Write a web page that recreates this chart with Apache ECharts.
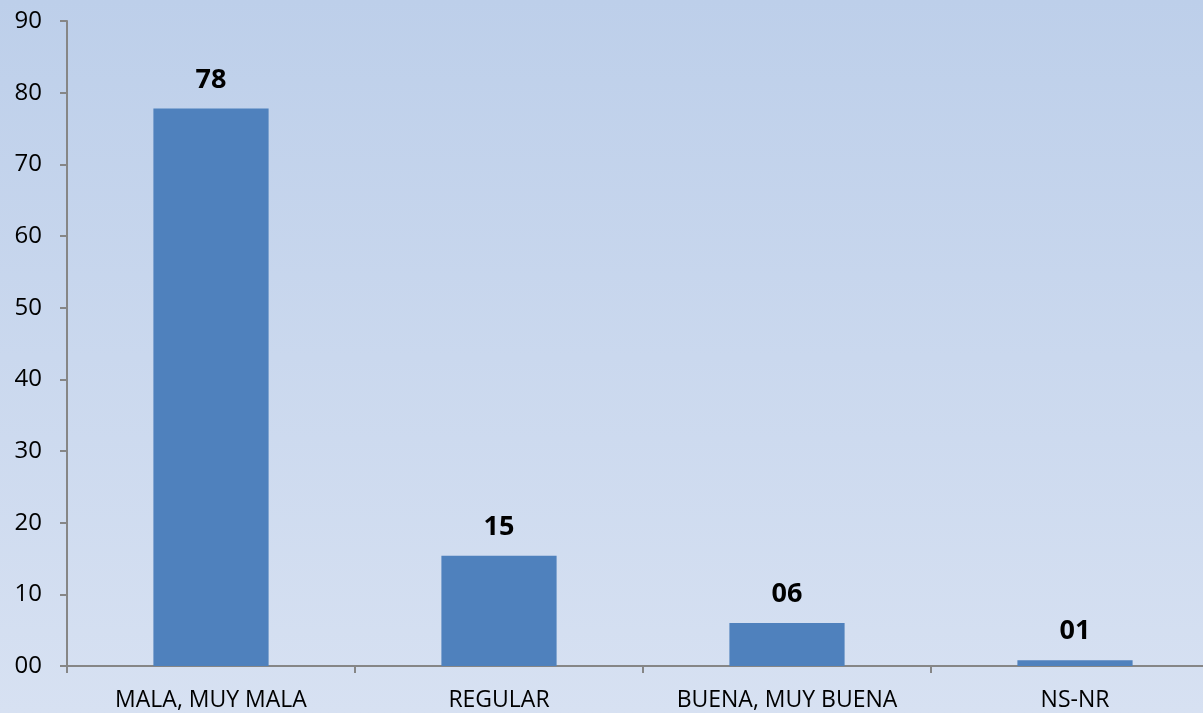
<!DOCTYPE html>
<html>
<head>
<meta charset="utf-8">
<script src="https://cdn.jsdelivr.net/npm/echarts@6/dist/echarts.min.js"></script>
<style>
  html, body { margin: 0; padding: 0; overflow: hidden; }
  #chart { width: 1219px; height: 713px; }
</style>
</head>
<body>
<div id="chart"></div>
<script>
// datos
var categorias = ["MALA, MUY MALA", "REGULAR", "BUENA, MUY BUENA", "NS-NR"];
var valores = [77.8, 15.4, 6.0, 0.8];

var chart = echarts.init(document.getElementById("chart"));

function dosDigitos(v) {
  var n = Math.round(v);
  return (n < 10 ? "0" : "") + n;
}

var option = {
  backgroundColor: {
    type: "linear", x: 0, y: 0, x2: 0, y2: 1,
    colorStops: [
      { offset: 0, color: "#BDCFEA" },
      { offset: 1, color: "#D7E1F2" }
    ]
  },
  textStyle: { fontFamily: "Open Sans, Liberation Sans, sans-serif" },
  grid: { left: 67, top: 21, bottom: 47, right: 0, containLabel: false },
  xAxis: {
    type: "category",
    data: categorias,
    boundaryGap: true,
    axisLine: { lineStyle: { color: "#868686", width: 2 } },
    axisTick: { show: true, length: 7, inside: false, lineStyle: { color: "#868686", width: 2 } },
    axisLabel: { color: "#000", fontSize: 23, margin: 23, interval: 0 }
  },
  yAxis: {
    type: "value",
    min: 0,
    max: 90,
    interval: 10,
    axisLine: { show: true, lineStyle: { color: "#868686", width: 2 } },
    axisTick: { show: true, length: 7, lineStyle: { color: "#868686", width: 2 } },
    splitLine: { show: false },
    axisLabel: {
      color: "#000",
      fontSize: 24,
      margin: 25,
      formatter: function (v) { return dosDigitos(v); }
    }
  },
  series: [
    {
      type: "bar",
      data: valores,
      barWidth: "40%",
      itemStyle: { color: "#4F81BD" },
      label: {
        show: true,
        position: "top",
        distance: 15,
        color: "#000",
        fontSize: 27,
        fontWeight: "bold",
        formatter: function (p) { return dosDigitos(p.value); }
      }
    }
  ]
};

chart.setOption(option);
</script>
</body>
</html>
